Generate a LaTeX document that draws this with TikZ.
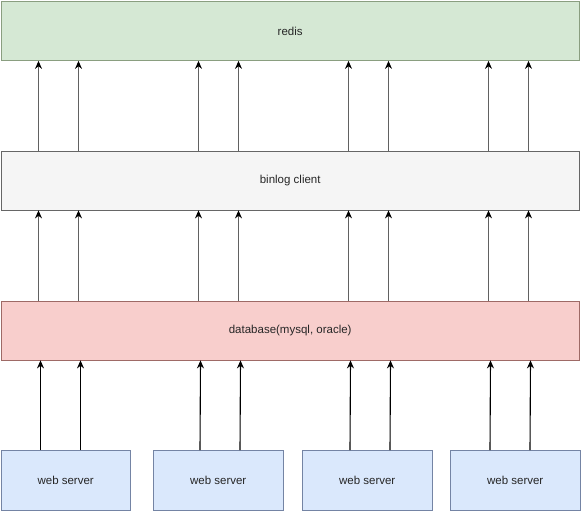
\documentclass[tikz,border=0pt]{standalone}
\usepackage{fontspec}
\setmainfont{Liberation Sans}
\usetikzlibrary{arrows.meta}
\definecolor{redisfill}{HTML}{D5E8D4}
\definecolor{redisline}{HTML}{8A9E80}
\definecolor{binfill}{HTML}{F5F5F5}
\definecolor{binline}{HTML}{666666}
\definecolor{dbfill}{HTML}{F8CECC}
\definecolor{dbline}{HTML}{9E6A66}
\definecolor{webfill}{HTML}{DAE8FC}
\definecolor{webline}{HTML}{7484A4}
\begin{document}
\begin{tikzpicture}
	[x=1pt, y=-1pt,
	every node/.style={rectangle, draw, line width=0.9pt, inner sep=0pt, anchor=north west,
		font=\fontsize{11.5}{13}\selectfont, text=black!85},
	layer/.style={minimum width=578.5pt, minimum height=59pt},
	webbox/.style={fill=webfill, draw=webline, minimum width=129.5pt, minimum height=60pt},
	uparrow/.style={-{Stealth[length=8pt,width=7pt,black]}, line width=1.1pt},
	feed/.style={uparrow, draw=black!62}]
	\useasboundingbox (0,0) rectangle (581,511);
	% layers
	\node [layer, fill=redisfill, draw=redisline] (redis) at (0.5,1) {redis};
	\node [layer, fill=binfill, draw=binline] (binlog) at (0.5,150.5) {binlog client};
	\node [layer, fill=dbfill, draw=dbline] (db) at (0.5,300.5) {database(mysql, oracle)};
	% web servers
	\node [webbox] (web1) at (0.5,450) {web server};
	\node [webbox] (web2) at (153,450) {web server};
	\node [webbox] (web3) at (302,450) {web server};
	\node [webbox] (web4) at (450,450) {web server};
	% binlog client -> redis
	\foreach \dx in {38,78,198,238,348,388,488,528}
		\draw [feed] ([xshift=\dx pt]binlog.north west) -- ([xshift=\dx pt]redis.south west);
	% database -> binlog client
	\foreach \dx in {38,78,198,238,348,388,488,528}
		\draw [feed] ([xshift=\dx pt]db.north west) -- ([xshift=\dx pt]binlog.south west);
	% web servers -> database
	\draw [uparrow] ([xshift=40pt]web1.north west) -- ([xshift=40pt]db.south west);
	\draw [uparrow] ([xshift=80pt]web1.north west) -- ([xshift=80pt]db.south west);
	\draw [uparrow] ([xshift=47pt]web2.north west) -- ([xshift=200pt]db.south west);
	\draw [uparrow] ([xshift=87pt]web2.north west) -- ([xshift=240pt]db.south west);
	\draw [uparrow] ([xshift=48pt]web3.north west) -- ([xshift=350pt]db.south west);
	\draw [uparrow] ([xshift=88pt]web3.north west) -- ([xshift=390pt]db.south west);
	\draw [uparrow] ([xshift=40pt]web4.north west) -- ([xshift=490pt]db.south west);
	\draw [uparrow] ([xshift=80pt]web4.north west) -- ([xshift=530pt]db.south west);
\end{tikzpicture}
\end{document}
